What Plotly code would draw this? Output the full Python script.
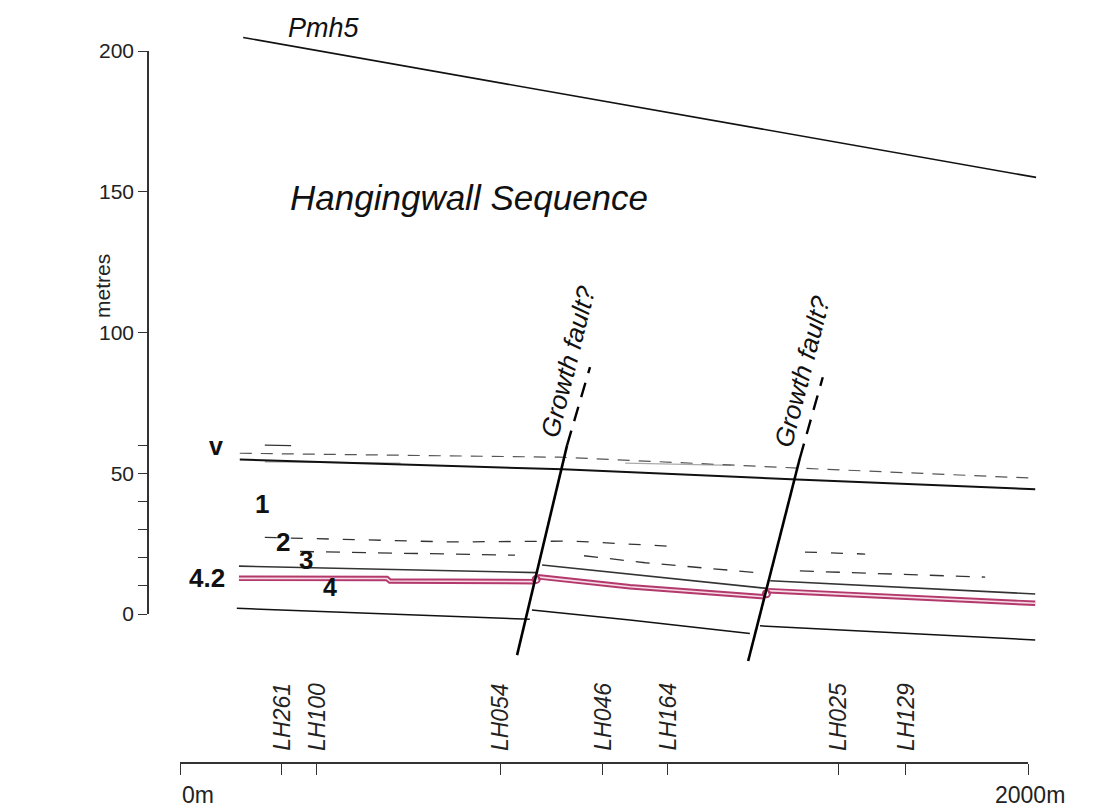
import plotly.graph_objects as go

# ---------------- data (metres along section, metres elevation) ----------------
pmh5_x = [149, 2019]
pmh5_y = [204.8, 155.1]

v_x = [141, 903, 1455, 2017]
v_y = [54.9, 51.4, 47.8, 44.3]
v_dash_x = [141, 896, 1462, 2005]
v_dash_y = [57.1, 55.7, 51.8, 48.3]
v_faint_x = [200, 520, None, 1050, 1300]
v_faint_y = [54.1, 53.6, None, 53.6, 52.8]
v_top_x = [200, 262]
v_top_y = [60.0, 59.8]

h2_dash_x = [200, 637, 925, 1179, None, 1474, 1616]
h2_dash_y = [27.2, 25.6, 25.9, 23.9, None, 22.0, 21.3]
h3_dash_x = [283, 790, None, 953, 1097, 1368, None, 1462, 1899]
h3_dash_y = [22.2, 20.9, None, 20.7, 18.2, 14.6, None, 15.3, 13.1]

h3_x = [139, 842, None, 854, 1061, 1384, None, 1392, 2017]
h3_y = [17.0, 14.7, None, 17.4, 14.2, 9.1, None, 11.8, 7.1]

pink_x = [139, 488, 495, 837, None, 844, 1061, 1380, None, 1387, 2017]
pink_y = [12.67, 12.6, 11.7, 11.5, None, 13.2, 9.7, 6.1, None, 8.3, 3.8]
pink_fault_x = [840, 1383]
pink_fault_y = [12.3, 7.2]

base_x = [134, 825, None, 830, 1061, 1344, None, 1368, 2017]
base_y = [2.0, -1.9, None, 1.4, -2.1, -6.9, None, -4.2, -9.2]

f1_solid_x = [795, 913]
f1_solid_y = [-14.6, 60.0]
f1_dash_x = [913, 967]
f1_dash_y = [60.0, 87.7]
f2_solid_x = [1340, 1462]
f2_solid_y = [-16.7, 55.4]
f2_dash_x = [1462, 1516]
f2_dash_y = [55.4, 84.1]

boreholes = ["LH261", "LH100", "LH054", "LH046", "LH164", "LH025", "LH129"]
borehole_x = [240, 323, 755, 997, 1150, 1552, 1712]

y_ticks = [0, 50, 100, 150, 200]
y_minor = [10, 20, 30, 40, 60]

# ---------------- layout geometry (pixels) ----------------
W, H = 1093, 812
X0PX, X1PX = 180, 1028      # 0 m and 2000 m on the scale bar
Y0PX, Y200PX = 614, 51      # 0 m and 200 m on the vertical axis
sx = (X1PX - X0PX) / 2000.0
sy = (Y0PX - Y200PX) / 200.0
DXL, DXR = 148, 1070
DYT, DYB = 10, 700

def px(x):
    return x / W

def py(y):
    return 1 - y / H

FONT = "Liberation Sans, Arial, Helvetica, sans-serif"

fig = go.Figure()

def line(x, y, color="#111", width=1.6, dash="solid", opacity=1.0):
    fig.add_trace(go.Scatter(x=x, y=y, mode="lines", xaxis="x", yaxis="y",
                             line=dict(color=color, width=width, dash=dash),
                             opacity=opacity, showlegend=False, hoverinfo="skip",
                             connectgaps=False))

line(pmh5_x, pmh5_y, "#111", 1.6)
line(v_faint_x, v_faint_y, "#aaa", 1.4)
line(v_top_x, v_top_y, "#333", 1.2)
line(v_dash_x, v_dash_y, "#555", 1.2, "12px,9px")
line(v_x, v_y, "#111", 2.0)
line(h2_dash_x, h2_dash_y, "#333", 1.3, "12px,14px")
line(h3_dash_x, h3_dash_y, "#333", 1.3, "14px,12px")
line(h3_x, h3_y, "#333", 1.6)
line(base_x, base_y, "#111", 1.5)
line(pink_x, pink_y, "#b3386c", 5.5)
line(pink_x, pink_y, "#f6dbe5", 1.6)
fig.add_trace(go.Scatter(x=pink_fault_x, y=pink_fault_y, mode="markers", xaxis="x", yaxis="y",
                         marker=dict(size=7, color="rgba(0,0,0,0)", line=dict(color="#b3386c", width=2)),
                         showlegend=False, hoverinfo="skip"))
line(f1_solid_x, f1_solid_y, "#000", 2.6)
line(f1_dash_x, f1_dash_y, "#000", 2.4, "15px,10px")
line(f2_solid_x, f2_solid_y, "#000", 2.6)
line(f2_dash_x, f2_dash_y, "#000", 2.4, "15px,10px")

# invisible trace to register the scale-bar and vertical axes
fig.add_trace(go.Scatter(x=borehole_x, y=[None] * len(borehole_x), xaxis="x2", yaxis="y2",
                         mode="markers", showlegend=False, hoverinfo="skip"))

ann = []
def text(x, y, s, size, bold=False, italic=False, angle=0, xanchor="center", yanchor="middle",
         xref="paper", color="#111"):
    t = s
    if bold:
        t = "<b>" + t + "</b>"
    if italic:
        t = "<i>" + t + "</i>"
    ann.append(dict(x=x, y=y, xref=xref, yref="paper", text=t, showarrow=False,
                    textangle=angle, xanchor=xanchor, yanchor=yanchor,
                    font=dict(family=FONT, size=size, color=color)))

text(px(324), py(28), "Pmh5", 27, italic=True)
text(px(469), py(198), "Hangingwall Sequence", 35, italic=True)
text(px(568), py(362), "Growth fault?", 26, italic=True, angle=-76)
text(px(802), py(372), "Growth fault?", 26, italic=True, angle=-75.5)
text(px(216), py(446), "v", 25, bold=True)
text(px(262), py(504), "1", 26, bold=True)
text(px(283), py(542), "2", 26, bold=True)
text(px(306), py(560), "3", 26, bold=True)
text(px(330), py(587), "4", 25, bold=True)
text(px(207), py(578), "4.2", 26, bold=True)
text(px(103), py(286), "metres", 21, angle=-90, color="#222")
text(px(180), py(795), "0m", 23, xanchor="left", color="#222")
text(px(1030), py(795), "2000m", 23, color="#222")
for name, bx in zip(boreholes, borehole_x):
    text(bx, py(717), name, 23, italic=True, angle=-90, xref="x2", color="#222")

fig.update_layout(
    width=W, height=H, autosize=False,
    margin=dict(l=0, r=0, t=0, b=0, pad=0),
    paper_bgcolor="white", plot_bgcolor="rgba(0,0,0,0)",
    showlegend=False,
    annotations=ann,
    xaxis=dict(domain=[px(DXL), px(DXR)],
               range=[(DXL - X0PX) / sx, (DXR - X0PX) / sx],
               visible=False, fixedrange=True, automargin=False),
    yaxis=dict(domain=[py(DYB), py(DYT)],
               range=[(Y0PX - DYB) / sy, (Y0PX - DYT) / sy],
               visible=False, fixedrange=True, automargin=False),
    yaxis2=dict(domain=[py(Y0PX), py(Y200PX)], range=[0, 200], anchor="free",
                position=px(DXL), showline=True, linecolor="#333", linewidth=1.6,
                ticks="outside", ticklen=9, tickwidth=1.4, tickcolor="#333",
                tickmode="array", tickvals=y_ticks, ticktext=[str(v) for v in y_ticks],
                minor=dict(tickmode="array", tickvals=y_minor, ticks="outside",
                           ticklen=9, tickwidth=1.2, tickcolor="#333"),
                showgrid=False, zeroline=False, automargin=False, fixedrange=True,
                tickfont=dict(family=FONT, size=21, color="#222")),
    xaxis2=dict(domain=[px(X0PX), px(X1PX)], range=[0, 2000], anchor="free",
                position=py(763), showline=True, linecolor="#333", linewidth=1.8,
                ticks="outside", ticklen=11, tickwidth=1.4, tickcolor="#333",
                tickmode="array", tickvals=[0] + borehole_x + [2000],
                showticklabels=False, showgrid=False, zeroline=False,
                automargin=False, fixedrange=True),
)

fig.write_html("out.html", config={"displayModeBar": False},
               post_script="document.body.style.margin='0px';")
